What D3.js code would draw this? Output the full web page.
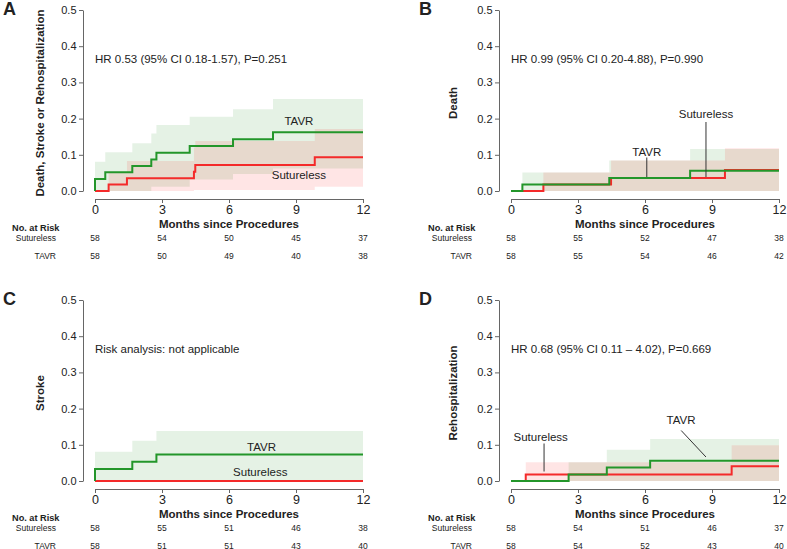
<!DOCTYPE html>
<html><head><meta charset="utf-8">
<script src="https://cdn.jsdelivr.net/npm/d3@7/dist/d3.min.js"></script>
<style>
body{margin:0;background:#fff;}
text{font-family:"Liberation Sans",Arial,sans-serif;fill:#222;}
</style></head>
<body><svg id="c" width="787" height="549"></svg>
<script>
// ---------- data ----------
const monthTicks = [0, 3, 6, 9, 12];
const yTicks = [0, 0.1, 0.2, 0.3, 0.4, 0.5];
const groups = ["Sutureless", "TAVR"];

// Panel A: Death, Stroke or Rehospitalization
const aTavrTime  = [0, 0, 0.46, 1.67, 2.52, 2.75, 4.24, 6.18, 7.97];
const aTavrEst   = [0, 0.033, 0.052, 0.069, 0.087, 0.106, 0.124, 0.143, 0.162];
const aTavrUpper = [0, 0.081, 0.107, 0.132, 0.159, 0.182, 0.205, 0.226, 0.254];
const aTavrLower = [0, 0, 0, 0, 0.012, 0.012, 0.032, 0.047, 0.062];
const aSutTime   = [0, 0.61, 1.43, 4.43, 4.49, 9.84];
const aSutEst    = [0, 0.018, 0.035, 0.053, 0.072, 0.093];
const aSutUpper  = [0, 0.050, 0.083, 0.120, 0.138, 0.171];
const aSutLower  = [0, 0, 0, 0.003, 0.003, 0.012];
const aRiskSut   = [58, 54, 50, 45, 37];
const aRiskTavr  = [58, 50, 49, 40, 38];

// Panel B: Death
const bTavrTime  = [0, 0.51, 4.40, 8.02];
const bTavrEst   = [0, 0.018, 0.036, 0.056];
const bTavrUpper = [0, 0.051, 0.084, 0.116];
const bTavrLower = [0, 0, 0, 0];
const bSutTime   = [0, 1.45, 4.48, 9.58];
const bSutEst    = [0, 0.018, 0.036, 0.058];
const bSutUpper  = [0, 0.051, 0.084, 0.118];
const bSutLower  = [0, 0, 0, 0];
const bRiskSut   = [58, 55, 52, 47, 38];
const bRiskTavr  = [58, 55, 54, 46, 42];

// Panel C: Stroke
const cTavrTime  = [0, 0, 1.67, 2.75];
const cTavrEst   = [0, 0.033, 0.053, 0.073];
const cTavrUpper = [0, 0.081, 0.111, 0.138];
const cTavrLower = [0, 0, 0, 0];
const cSutTime   = [0];
const cSutEst    = [0];
const cSutUpper  = [0];
const cSutLower  = [0];
const cRiskSut   = [58, 55, 51, 46, 38];
const cRiskTavr  = [58, 51, 51, 43, 40];

// Panel D: Rehospitalization
const dTavrTime  = [0, 2.58, 4.29, 6.23];
const dTavrEst   = [0, 0.018, 0.037, 0.056];
const dTavrUpper = [0, 0.052, 0.086, 0.116];
const dTavrLower = [0, 0, 0, 0];
const dSutTime   = [0, 0.66, 9.88];
const dSutEst    = [0, 0.018, 0.041];
const dSutUpper  = [0, 0.052, 0.099];
const dSutLower  = [0, 0, 0];
const dRiskSut   = [58, 54, 51, 46, 37];
const dRiskTavr  = [58, 54, 52, 43, 40];

const panelLetters = ["A", "B", "C", "D"];
const yTitles = ["Death, Stroke or Rehospitalization", "Death", "Stroke", "Rehospitalization"];
const notes = ["HR 0.53 (95% CI 0.18-1.57), P=0.251", "HR 0.99 (95% CI 0.20-4.88), P=0.990",
               "Risk analysis: not applicable", "HR 0.68 (95% CI 0.11 \u2013 4.02), P=0.669"];

// ---------- layout ----------
const svg = d3.select("#c");
const GREEN = "#23962a", RED = "#f42a2a";
const x = d3.scaleLinear().domain([0, 12]).range([95, 363]);
const y = d3.scaleLinear().domain([0, 0.5]).range([191, 10]);

function zipStep(t, v) { const p = t.map((d, i) => [d, v[i]]); p.push([12, v[v.length - 1]]); return p; }
function zipBand(t, lo, hi) { const p = t.map((d, i) => [d, lo[i], hi[i]]); p.push([12, lo[lo.length - 1], hi[hi.length - 1]]); return p; }

const line = d3.line().x(d => x(d[0])).y(d => y(d[1])).curve(d3.curveStepAfter);
const area = d3.area().x(d => x(d[0])).y0(d => y(d[1])).y1(d => y(d[2])).curve(d3.curveStepAfter);

const panels = [
  {ox: 0,   oy: 0,   ylx: 43.5,
   tavr: [aTavrTime, aTavrEst, aTavrLower, aTavrUpper], sut: [aSutTime, aSutEst, aSutLower, aSutUpper],
   risk: [aRiskSut, aRiskTavr],
   labels: [{t: "TAVR", m: 9.13, dy: 121}, {t: "Sutureless", m: 9.13, dy: 175}], leaders: []},
  {ox: 416, oy: 0,   ylx: 41,
   tavr: [bTavrTime, bTavrEst, bTavrLower, bTavrUpper], sut: [bSutTime, bSutEst, bSutLower, bSutUpper],
   risk: [bRiskSut, bRiskTavr],
   labels: [{t: "TAVR", m: 6.08, dy: 152}, {t: "Sutureless", m: 8.73, dy: 114}],
   leaders: [[6.08, 157.5, 6.08, 177], [8.73, 122, 8.73, 177]]},
  {ox: 0,   oy: 290, ylx: 43.5,
   tavr: [cTavrTime, cTavrEst, cTavrLower, cTavrUpper], sut: [cSutTime, cSutEst, cSutLower, cSutUpper],
   risk: [cRiskSut, cRiskTavr],
   labels: [{t: "TAVR", m: 7.46, dy: 156.7}, {t: "Sutureless", m: 7.40, dy: 182.3}], leaders: []},
  {ox: 416, oy: 290, ylx: 41,
   tavr: [dTavrTime, dTavrEst, dTavrLower, dTavrUpper], sut: [dSutTime, dSutEst, dSutLower, dSutUpper],
   risk: [dRiskSut, dRiskTavr],
   labels: [{t: "TAVR", m: 7.61, dy: 130}, {t: "Sutureless", m: 1.33, dy: 146.7}],
   leaders: [[1.48, 153.5, 1.48, 181.5], [7.62, 140.5, 8.73, 167]]}
];

panels.forEach((p, i) => {
  const g = svg.append("g").attr("transform", `translate(${p.ox},${p.oy})`);

  // confidence bands
  g.append("path").datum(zipBand(p.tavr[0], p.tavr[2], p.tavr[3]))
    .attr("d", area).attr("fill", "rgb(0,128,0)").attr("fill-opacity", 0.1);
  g.append("path").datum(zipBand(p.sut[0], p.sut[2], p.sut[3]))
    .attr("d", area).attr("fill", "rgb(255,0,0)").attr("fill-opacity", 0.1);

  // curves
  g.append("path").datum(zipStep(p.sut[0], p.sut[1])).attr("d", line)
    .attr("fill", "none").attr("stroke", RED).attr("stroke-width", 2);
  g.append("path").datum(zipStep(p.tavr[0], p.tavr[1])).attr("d", line)
    .attr("fill", "none").attr("stroke", GREEN).attr("stroke-width", 2);

  // axes
  const ya = g.append("g").attr("transform", "translate(83,0)")
    .call(d3.axisLeft(y).tickValues(yTicks).tickFormat(d3.format(".1f")).tickSize(4).tickSizeOuter(0).tickPadding(2.5));
  ya.selectAll("text").style("font-size", "11px").attr("fill", "#222");
  const xa = g.append("g").attr("transform", "translate(0,199)")
    .call(d3.axisBottom(x).tickValues(monthTicks).tickFormat(d3.format("d")).tickSize(4).tickSizeOuter(0).tickPadding(2.5));
  xa.selectAll("text").style("font-size", "12.5px").attr("fill", "#222");
  [ya, xa].forEach(a => { a.selectAll("path,line").attr("stroke", "#666"); });

  // titles
  g.append("text").attr("x", 3).attr("y", 15).style("font-size", "18px").style("font-weight", "bold").text(panelLetters[i]);
  g.append("text").attr("transform", `translate(${p.ylx},103) rotate(-90)`).attr("text-anchor", "middle")
    .style("font-size", "11.5px").style("font-weight", "bold").text(yTitles[i]);
  g.append("text").attr("x", (x(0) + x(12)) / 2).attr("y", 227.5).attr("text-anchor", "middle")
    .style("font-size", "11.5px").style("font-weight", "bold").text("Months since Procedures");
  g.append("text").attr("x", x(0)).attr("y", 62.8).style("font-size", "11.5px").text(notes[i]);

  // curve labels and leaders
  p.labels.forEach(l => {
    g.append("text").attr("x", x(l.m)).attr("y", l.dy + 4).attr("text-anchor", "middle")
      .style("font-size", "11.5px").text(l.t);
  });
  p.leaders.forEach(s => {
    g.append("line").attr("x1", x(s[0])).attr("y1", s[1]).attr("x2", x(s[2])).attr("y2", s[3])
      .attr("stroke", "#333").attr("stroke-width", 1);
  });

  // number at risk
  g.append("text").attr("x", 12).attr("y", 230.8).style("font-size", "9.2px").style("font-weight", "bold").text("No. at Risk");
  const rowY = [241.3, 258.5];
  groups.forEach((gr, k) => {
    g.append("text").attr("x", 56).attr("y", rowY[k]).attr("text-anchor", "end").style("font-size", "8.5px").text(gr);
    g.selectAll(null).data(p.risk[k]).enter().append("text")
      .attr("x", (d, j) => x(monthTicks[j])).attr("y", rowY[k]).attr("text-anchor", "middle")
      .style("font-size", "8.5px").text(d => d);
  });
});
</script></body></html>
